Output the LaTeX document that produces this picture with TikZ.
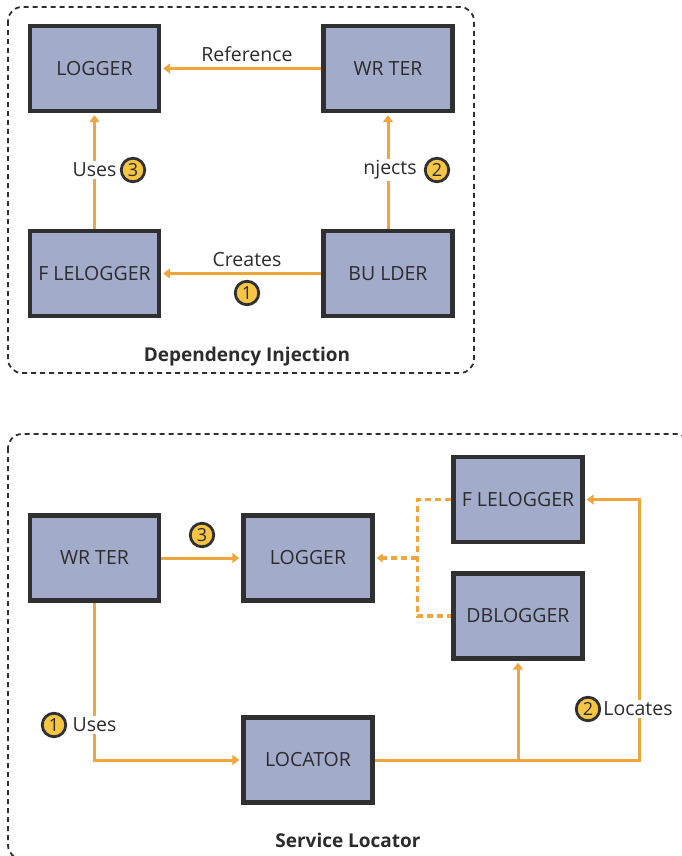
\documentclass[tikz,border=0pt]{standalone}
\usepackage{fontspec}
\setmainfont{Open Sans}
\usetikzlibrary{arrows.meta,calc}
\definecolor{boxfill}{HTML}{A3ABCB}
\definecolor{boxline}{HTML}{303030}
\definecolor{flow}{HTML}{F0A63C}
\definecolor{badgefill}{HTML}{F7C544}
\definecolor{ink}{HTML}{2C2C2C}
\begin{document}
\begin{tikzpicture}[x=1pt,y=-1pt,
  comp/.style={draw=boxline, line width=4.4pt, fill=boxfill, minimum width=129pt,
    minimum height=85pt, inner sep=0pt, font=\fontsize{19.5}{23}\selectfont, text=ink},
  flowline/.style={draw=flow, line width=3pt,
    -{Triangle[length=7pt,width=10pt]}, shorten >=2pt},
  dashflow/.style={draw=flow, line width=3.5pt, dash pattern=on 6pt off 4pt},
  badge/.style={circle, draw=boxline, line width=2.8pt, fill=badgefill,
    minimum size=23.5pt, inner sep=0pt, font=\fontsize{18}{18}\selectfont, text=ink},
  lbl/.style={fill=white, inner sep=2pt, font=\fontsize{19.5}{23}\selectfont, text=ink},
  title/.style={font=\fontsize{19}{23}\selectfont\bfseries, text=ink},
  frame/.style={draw=boxline, line width=1.8pt, dash pattern=on 5pt off 4pt,
    rounded corners=14pt}]
\useasboundingbox (0,0) rectangle (682,856);

% ---------- Dependency Injection ----------
\draw[frame] (8,7) rectangle (474,373);

\node[comp] (lg1) at (94.5,68.5) {LOGGER};
\node[comp] (wr1) at (388,68.5) {WR TER};
\node[comp] (fl1) at (94.5,273.5) {F LELOGGER};
\node[comp] (bu1) at (388,273.5) {BU LDER};

\draw[flowline] (wr1.west) -- (lg1.east);
\node[lbl, fill=none] (refl) at (247,54) {Reference};

\draw[flowline] (fl1.north) -- (lg1.south);
\node[lbl] (usesl) at (94.5,170) {Uses};
\node[badge] (b3a) at (133,170) {3};

\draw[flowline] (bu1.north) -- (wr1.south);
\node[lbl] (injl) at (390,170) {njects};
\node[badge] (b2a) at (437,170) {2};

\draw[flowline] (bu1.west) -- (fl1.east);
\node[lbl, fill=none] (crel) at (247,260) {Creates};
\node[badge] (b1a) at (247,293) {1};

\node[title] (ditl) at (247,357) {Dependency Injection};

% ---------- Service Locator ----------
\draw[frame] (8,434) rectangle (690,859);

\node[comp] (wr2) at (94.5,558) {WR TER};
\node[comp] (lg2) at (308,558) {LOGGER};
\node[comp] (fl2) at (518,499.5) {F LELOGGER};
\node[comp] (db2) at (518,616) {DBLOGGER};
\node[comp] (loc) at (308,760) {LOCATOR};

\draw[flowline] (wr2.east) -- (lg2.west);
\node[badge] (b3b) at (202,535) {3};

% implementations feeding the logger
\coordinate (dj) at ($(fl2.west)+(-34,0)$);
\draw[dashflow] (fl2.west) -- (dj) |- (db2.west);
\draw[dashflow, -{Triangle[length=6pt,width=9pt]}, shorten >=2pt]
  (dj |- lg2.east) -- (lg2.east);

% writer uses the locator
\draw[flowline] (wr2.south) |- (loc.west);
\node[lbl] (uses2) at (94.5,725) {Uses};
\node[badge] (b1b) at (54,725) {1};

% locator finds the concrete loggers
\coordinate (lr) at ($(fl2.east)+(55,0)$);
\draw[flowline] (loc.east) -| (lr) -- (fl2.east);
\draw[flowline] (db2.south |- loc.east) -- (db2.south);
\node[lbl] (locl) at (638,709) {Locates};
\node[badge] (b2b) at (588,709) {2};

\node[title] (sltl) at (348,840) {Service Locator};
\end{tikzpicture}
\end{document}
